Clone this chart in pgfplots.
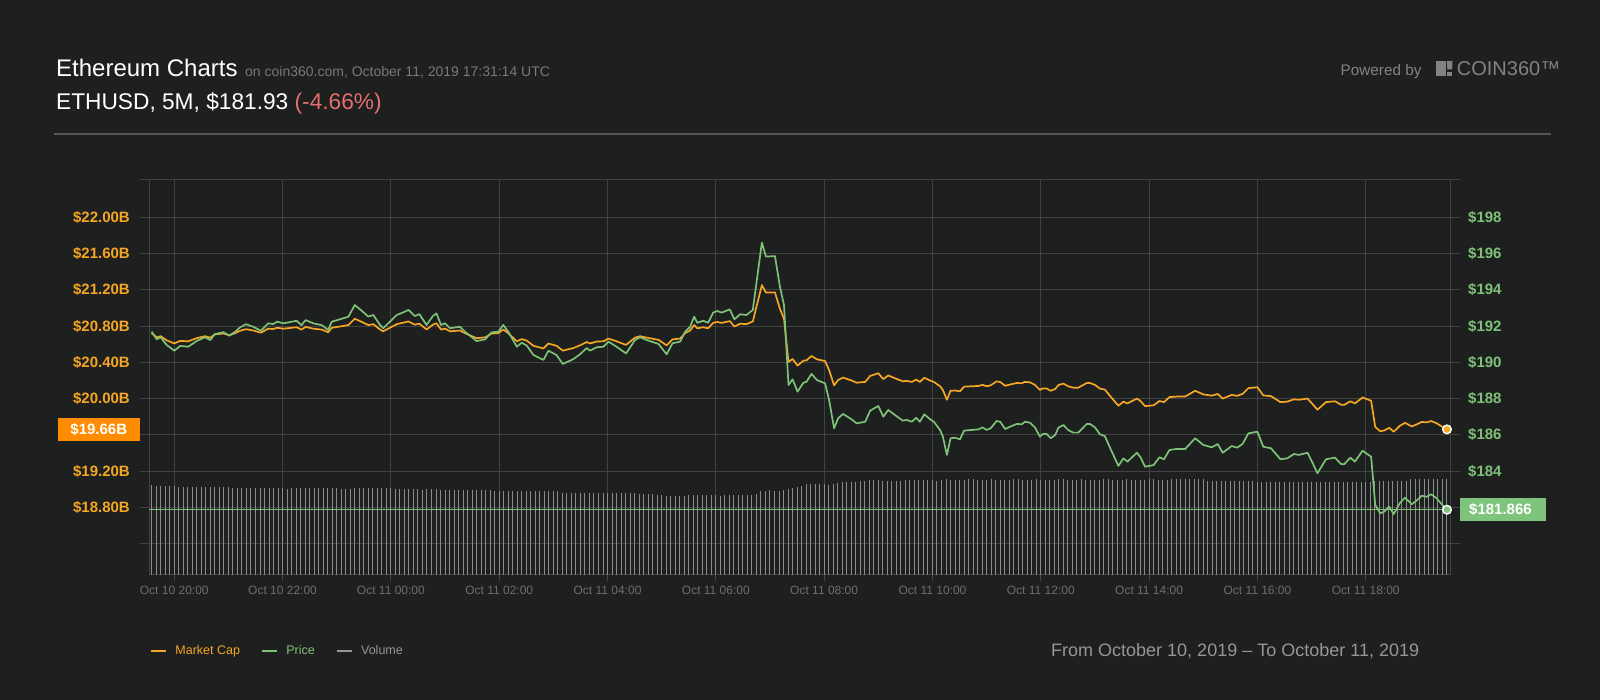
\documentclass[border=0pt]{standalone}
\usepackage{pgfplots}
\pgfplotsset{compat=1.18}
\usepackage{pgfplotstable}
\usepackage{fontspec}
\setmainfont{Liberation Sans}
\definecolor{bg}{RGB}{30,31,31}
\definecolor{gridc}{RGB}{66,66,66}
\definecolor{orangeline}{RGB}{245,166,35}
\definecolor{greenline}{RGB}{126,194,120}
\definecolor{boxorange}{RGB}{255,140,0}
\definecolor{boxgreen}{RGB}{126,196,124}
\definecolor{volc}{RGB}{140,140,140}
\definecolor{xlbl}{RGB}{110,110,110}
\definecolor{subgray}{RGB}{120,120,120}
\definecolor{redc}{RGB}{230,110,110}
\definecolor{sepc}{RGB}{85,85,85}
\definecolor{logogray}{RGB}{130,130,130}
\definecolor{legvol}{RGB}{150,150,150}
\definecolor{bottomgray}{RGB}{150,150,150}

\pgfplotstableread{
i p m
0 191.69 20.722
1.1 191.27 20.676
2 191.38 20.688
3.3 190.96 20.643
5 190.64 20.608
6.3 190.90 20.636
8.1 190.86 20.632
10 191.18 20.667
11.8 191.38 20.688
13 191.23 20.672
14 191.56 20.708
15.9 191.66 20.718
17.2 191.47 20.698
18.5 191.69 20.722
19.6 191.93 20.748
20.9 192.10 20.766
22.5 191.96 20.751
24.2 191.74 20.727
25.8 192.15 20.771
26.9 192.11 20.767
27.8 192.24 20.781
29.2 192.15 20.771
32.1 192.29 20.787
33.2 192.05 20.761
34.1 192.33 20.791
35.8 192.15 20.771
37.7 192.05 20.761
39.1 191.78 20.731
39.9 192.24 20.781
41.7 192.37 20.795
43.6 192.52 20.811
45 193.16 20.881
46.5 192.85 20.847
48 192.52 20.811
49.1 192.61 20.821
50.6 192.06 20.762
51.3 191.88 20.742
52.4 192.15 20.771
54.3 192.61 20.821
56.1 192.79 20.841
56.9 192.89 20.851
58.3 192.55 20.815
59.3 192.66 20.827
60.9 192.06 20.762
62.3 192.55 20.815
63.1 192.70 20.831
64.1 192.06 20.762
65 192.15 20.771
66.1 191.88 20.742
68.3 191.96 20.751
69.4 191.69 20.722
72 191.17 20.666
73.9 191.27 20.676
75.3 191.65 20.717
76.8 191.69 20.722
77.9 192.06 20.762
79 191.69 20.722
80.9 190.86 20.632
82 191.08 20.656
83.1 190.92 20.639
84.6 190.40 20.582
86.8 190.13 20.553
87.9 190.64 20.608
89.7 190.40 20.582
91.1 189.91 20.529
93.4 190.17 20.557
94.9 190.44 20.587
96.4 190.79 20.624
97.1 190.64 20.608
98.6 190.83 20.629
100.1 190.86 20.632
101.2 191.14 20.662
103 190.86 20.632
105.1 190.49 20.592
107.1 191.23 20.672
108.2 191.38 20.688
109.7 191.23 20.672
112.3 191.01 20.648
114.1 190.44 20.587
115.4 191.05 20.653
117.1 191.14 20.662
118.2 191.69 20.722
119.3 191.96 20.751
120.2 192.52 20.811
120.9 192.18 20.775
122.2 192.29 20.787
123.3 192.18 20.775
124.4 192.74 20.835
125.3 192.83 20.845
126.3 192.74 20.835
128.1 192.92 20.855
129.1 192.37 20.795
130.4 192.65 20.826
131.8 192.61 20.821
133.2 192.89 20.851
135.2 196.60 21.252
136.1 195.83 21.169
138.1 195.86 21.172
139.2 194.17 20.990
140.1 193.16 20.881
141.1 188.75 20.404
142 189.06 20.437
143.1 188.38 20.364
144.4 188.87 20.417
145.1 188.93 20.423
146.2 189.36 20.470
147.4 189.02 20.433
149.2 188.84 20.414
150.1 187.92 20.314
151.2 186.36 20.146
152.1 186.91 20.205
153.2 187.15 20.231
155.1 186.85 20.199
156.2 186.63 20.175
158.1 186.72 20.184
159.2 187.33 20.250
161 187.59 20.279
162.1 187.00 20.215
163.2 187.37 20.255
164.7 187.09 20.224
166.4 186.78 20.191
167.3 186.82 20.195
168.4 186.72 20.184
169.4 186.94 20.208
170.2 186.72 20.184
171.2 187.13 20.229
172.5 186.85 20.199
173.3 186.72 20.184
174.7 186.26 20.135
175.3 185.90 20.096
176.2 184.89 19.987
177 185.81 20.086
178 185.84 20.089
179.1 185.75 20.080
180 186.23 20.131
181.7 186.27 20.136
183.2 186.30 20.139
184.1 186.41 20.151
185 186.27 20.136
185.9 186.36 20.146
187.2 186.76 20.189
188 186.72 20.184
189.1 186.32 20.141
190.6 186.49 20.160
191.7 186.60 20.172
192.8 186.58 20.169
193.5 186.72 20.184
194.6 186.67 20.179
195.7 186.41 20.151
196.8 185.90 20.096
197.4 186.04 20.111
198.3 186.04 20.111
199.2 185.81 20.086
200.2 185.99 20.106
200.9 186.39 20.149
202 186.54 20.165
203.1 186.26 20.135
204.2 186.12 20.120
205.3 186.12 20.120
207.2 186.60 20.172
207.9 186.60 20.172
209 186.41 20.151
210.1 186.03 20.110
211.2 185.93 20.099
212.5 185.20 20.020
214.2 184.28 19.921
215.3 184.70 19.966
216.2 184.52 19.947
218.3 185.01 20.000
219.1 184.76 19.973
220.1 184.24 19.916
222 184.33 19.926
223.3 184.76 19.973
224.3 184.65 19.961
225.5 185.16 20.016
227.1 185.22 20.022
229 185.22 20.022
231.2 185.81 20.086
233 185.44 20.046
234.9 185.31 20.032
236.2 185.49 20.051
237.3 185.01 20.000
239.3 185.38 20.040
240.5 185.29 20.030
241.7 185.49 20.051
243 186.08 20.115
245 186.17 20.125
246.3 185.34 20.035
248 185.26 20.027
250.1 184.65 19.961
251.6 184.70 19.966
253.1 184.94 19.992
254.2 184.89 19.987
256.1 185.01 20.000
257.2 184.46 19.940
258.3 183.88 19.877
260.2 184.65 19.961
262.2 184.74 19.970
263.5 184.39 19.933
264.2 184.37 19.930
265.6 184.74 19.970
266.6 184.52 19.947
268.3 185.12 20.012
270.2 184.79 19.976
271.1 182.13 19.688
272.2 181.67 19.639
273.1 181.76 19.648
274.2 182.03 19.677
275.2 181.63 19.634
276.6 182.25 19.701
277.7 182.53 19.732
279.2 182.17 19.693
280.4 182.40 19.717
281.4 182.64 19.743
282.5 182.58 19.737
283.5 182.72 19.752
284.7 182.50 19.728
285.8 182.18 19.694
287 181.87 19.660
}\pricetable

\pgfplotstableread[row sep=\\]{
v\\
90\\
89.3\\ 89.3\\ 89.3\\ 89.3\\ 89.3\\
88.3\\ 88.3\\ 88.3\\ 88.3\\ 88.3\\ 88.3\\ 88.3\\ 88.3\\ 88.3\\ 88.3\\ 88.3\\ 88.3\\
86.7\\ 86.7\\ 86.7\\ 86.7\\ 86.7\\ 86.7\\ 86.7\\ 86.7\\ 86.7\\ 86.7\\ 86.7\\ 86.7\\
85.7\\
86.7\\ 86.7\\ 86.7\\ 86.7\\ 86.7\\ 86.7\\ 86.7\\ 86.7\\ 86.7\\ 86.7\\ 86.7\\
85.7\\ 85.7\\ 85.7\\
86.7\\ 86.7\\ 86.7\\ 86.7\\ 86.7\\ 86.7\\ 86.7\\ 86.7\\ 86.7\\
85.7\\ 85.7\\ 85.7\\ 85.7\\ 85.7\\ 85.7\\ 85\\ 85.7\\ 85.7\\ 85.7\\
85\\ 85\\ 85\\ 85\\ 85\\ 85\\ 85\\ 85\\ 85\\ 85\\ 85\\ 85\\
83.5\\ 83.5\\ 83.5\\ 83.5\\ 83.5\\ 83.5\\ 83.5\\ 83.5\\ 83.5\\ 83.5\\ 83.5\\ 83.5\\ 83.5\\ 83.5\\ 83.5\\
82\\ 82\\ 82\\ 82\\ 82\\ 82\\ 82\\ 82\\ 82\\ 82\\ 82\\ 82\\ 82\\ 82\\ 82\\ 82\\ 82\\
81\\ 81\\ 81\\ 81\\
80\\ 80\\
79\\ 79\\ 79\\ 79\\ 79\\
80\\ 80\\ 80\\ 80\\ 80\\ 80\\ 80\\
79\\
80\\ 80\\ 80\\ 80\\ 80\\ 80\\ 80\\
81\\ 83.7\\ 84.3\\ 84.7\\ 83.7\\ 84\\ 85\\ 86\\ 87\\ 87.7\\ 89\\ 90.7\\
91\\ 91\\ 91\\ 91\\
89.7\\ 91\\ 92\\
92.7\\ 92.7\\ 92.7\\ 92.7\\
93.7\\ 93.7\\
94.7\\ 95\\ 94.7\\
93.7\\ 93.7\\ 93.7\\ 93.7\\ 93.7\\
94.7\\ 94.7\\ 94.7\\ 94.7\\ 94.7\\ 94.7\\ 94.7\\
93.7\\
95.3\\ 96\\ 95.3\\ 95.3\\ 94.7\\ 95.3\\ 96\\ 96\\ 95.3\\ 95.3\\
95.3\\ 96\\ 95.3\\ 95.3\\ 94.7\\ 95.3\\ 96\\ 96\\ 95.3\\ 95.3\\
95.3\\ 96\\ 95.3\\ 95.3\\ 94.7\\ 95.3\\ 96\\ 96\\ 95.3\\ 95.3\\
95.3\\ 96\\ 95.3\\ 95.3\\ 94.7\\ 95.3\\ 96\\ 96\\ 95.3\\ 95.3\\
95.3\\ 96\\ 95.3\\ 95.3\\ 94.7\\ 95.3\\ 96\\ 96\\ 95.3\\ 95.3\\
95.3\\
96\\ 96\\ 96\\ 96\\ 96\\ 96\\ 96\\ 96\\
94\\ 94\\ 94\\ 94\\ 94\\ 94\\ 94\\ 94\\ 94\\ 94\\ 94\\
92.5\\ 92.5\\ 92.5\\ 92.5\\ 92.5\\ 92.5\\ 92.5\\ 92.5\\ 92.5\\ 92.5\\ 92.5\\ 92.5\\ 92.5\\
92.5\\ 92.5\\ 92.5\\ 92.5\\ 92.5\\ 92.5\\ 92.5\\ 92.5\\ 92.5\\ 92.5\\ 92.5\\ 92.5\\ 92.5\\
93.5\\ 93.5\\ 93.5\\ 93.5\\ 93.5\\ 93.5\\ 93.5\\ 93.5\\
96\\ 96\\ 96\\ 96\\ 96\\ 96\\ 96\\ 96\\ 96\\
}\voltable

\begin{document}
\begin{tikzpicture}
\fill[bg] (0pt,0pt) rectangle (1600pt,700pt);

% ---------- Market cap axis (grid, frame, left ticks) ----------
\begin{axis}[
  at={(149.3pt,125pt)}, anchor=south west,
  scale only axis, width=1301.4pt, height=395pt,
  xmin=-0.53, xmax=287.83, ymin=18.0535, ymax=22.4116,
  clip=false,
  axis line style={draw=gridc, line width=1pt},
  grid=major, major grid style={draw=gridc, line width=1pt},
  xtick={5,29,53,77,101,125,149,173,197,221,245,269},
  xticklabels={},
  xtick style={draw=none},
  ytick={18.4,18.8,19.2,19.6,20.0,20.4,20.8,21.2,21.6,22.0,22.4116},
  yticklabels={{},\$18.80B,\$19.20B,{},\$20.00B,\$20.40B,\$20.80B,\$21.20B,\$21.60B,\$22.00B,{}},
  ytick pos=left,
  tick align=outside, major tick length=9.3pt,
  ytick style={draw=gridc, line width=1pt},
  yticklabel style={font=\bfseries\fontsize{15}{15}\selectfont, text=orangeline, anchor=east, inner sep=0pt, xshift=-10pt},
]
\addplot[orangeline, line width=1.7pt, line join=round] table[x=i,y=m]{\pricetable};
\addplot[only marks, mark=*, mark size=4.3pt, mark options={fill=orangeline, draw=white, line width=1.4pt}] coordinates {(287,19.66)};
\node[fill=boxorange, text=white, font=\bfseries\fontsize{15}{15}\selectfont, minimum width=82pt, minimum height=23pt, inner sep=0pt, anchor=east, xshift=-9.3pt] at (axis cs:-0.53,19.66) {\$19.66B};
\end{axis}

% ---------- Volume axis (x ticks and labels) ----------
\begin{axis}[
  at={(149.3pt,125pt)}, anchor=south west,
  scale only axis, width=1301.4pt, height=395pt,
  xmin=-0.53, xmax=287.83, ymin=0, ymax=395,
  axis line style={draw=none},
  ytick=\empty,
  xtick={5,29,53,77,101,125,149,173,197,221,245,269},
  xticklabels={Oct 10 20:00, Oct 10 22:00, Oct 11 00:00, Oct 11 02:00, Oct 11 04:00, Oct 11 06:00, Oct 11 08:00, Oct 11 10:00, Oct 11 12:00, Oct 11 14:00, Oct 11 16:00, Oct 11 18:00},
  xtick pos=bottom,
  tick align=outside, major tick length=6pt,
  xtick style={draw=gridc, line width=1pt},
  xticklabel style={font=\fontsize{12}{12}\selectfont, text=xlbl, anchor=north, inner sep=0pt, yshift=-5pt},
]
\addplot[ycomb, draw=volc, line width=1pt] table[x expr=\coordindex, y=v]{\voltable};
\end{axis}

% ---------- Price axis (right ticks, price line, legend) ----------
\begin{axis}[
  at={(149.3pt,125pt)}, anchor=south west,
  scale only axis, width=1301.4pt, height=395pt,
  xmin=-0.53, xmax=287.83, ymin=178.265, ymax=200.058,
  clip=false,
  axis line style={draw=none},
  xtick=\empty,
  ytick={180,182,184,186,188,190,192,194,196,198,200.058},
  yticklabels={{},{},\$184,\$186,\$188,\$190,\$192,\$194,\$196,\$198,{}},
  ytick pos=right,
  tick align=outside, major tick length=9.3pt,
  ytick style={draw=gridc, line width=1pt},
  yticklabel style={font=\bfseries\fontsize{15}{15}\selectfont, text=greenline, anchor=west, inner sep=0pt, xshift=8pt},
  legend columns=3,
  legend style={at={(0.0005,-0.1916)}, anchor=west, draw=none, fill=none, inner sep=0pt,
    font=\fontsize{12.5}{12.5}\selectfont,
    nodes={inner sep=0pt},
    /tikz/every odd column/.append style={column sep=8.3pt},
    /tikz/every even column/.append style={column sep=21pt}},
  legend image code/.code={\draw[#1] (0pt,0pt) -- (15pt,0pt);},
]
\addlegendimage{orangeline, line width=2pt}
\addlegendentry{\textcolor{orangeline}{Market Cap}}
\addlegendimage{greenline, line width=2pt}
\addlegendentry{\textcolor{greenline}{Price}}
\addlegendimage{legvol, line width=2pt}
\addlegendentry{\textcolor{legvol}{Volume}}
\addplot[greenline, line width=1.5pt, forget plot] coordinates {(-0.53,181.866) (287.83,181.866)};
\addplot[greenline, line width=1.7pt, line join=round, forget plot] table[x=i,y=p]{\pricetable};
\addplot[only marks, mark=*, mark size=4.3pt, mark options={fill=greenline, draw=white, line width=1.4pt}, forget plot] coordinates {(287,181.866)};
\node[fill=boxgreen, text=white, font=\bfseries\fontsize{15}{15}\selectfont, text width=68pt, align=left, minimum height=23pt, inner xsep=9pt, inner ysep=0pt, anchor=west, xshift=9.3pt] at (axis cs:287.83,181.866) {\$181.866};
\end{axis}

% ---------- Header, logo, footer ----------
\node[anchor=base west, inner sep=0pt, text=white, font=\fontsize{24}{24}\selectfont] at (56pt,623pt) {Ethereum Charts};
\node[anchor=base west, inner sep=0pt, text=subgray, font=\fontsize{14}{14}\selectfont] at (245pt,623pt) {on coin360.com, October 11, 2019 17:31:14 UTC};
\node[anchor=base west, inner sep=0pt, text=white, font=\fontsize{22.7}{22.7}\selectfont] at (56pt,590.7pt) {ETHUSD, 5M, \$181.93 \textcolor{redc}{(-4.66\%)}};
\draw[sepc, line width=2pt] (54pt,565.5pt) -- (1551pt,565.5pt);

\node[anchor=base east, inner sep=0pt, text=logogray, font=\fontsize{15.3}{15.3}\selectfont] at (1421.7pt,624.3pt) {Powered by};
\fill[logogray] (1436pt,624.3pt) rectangle (1445.7pt,639pt);
\fill[logogray] (1447.3pt,630.5pt) -- (1452pt,630.5pt) -- (1452.5pt,639pt) -- (1446.8pt,639pt) -- cycle;
\fill[logogray] (1447.3pt,624.3pt) rectangle (1452pt,628.3pt);
\node[anchor=base west, inner sep=0pt, text=logogray, font=\fontsize{20}{20}\selectfont] at (1456.7pt,624.3pt) {COIN360™};

\node[anchor=base west, inner sep=0pt, text=bottomgray, font=\fontsize{18}{18}\selectfont] at (1051pt,43pt) {From October 10, 2019 – To October 11, 2019};
\end{tikzpicture}
\end{document}
